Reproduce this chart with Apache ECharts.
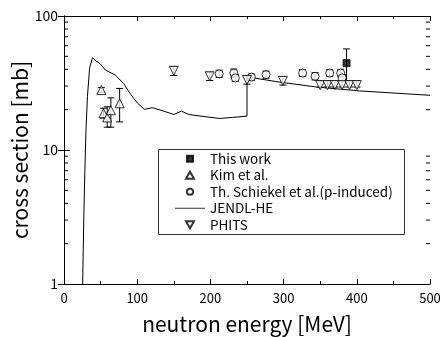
<!DOCTYPE html>
<html><head><meta charset="utf-8">
<script src="https://cdn.jsdelivr.net/npm/echarts@6/dist/echarts.min.js"></script>
<style>html,body{margin:0;padding:0;background:#fff}#c{width:443px;height:337px}</style>
</head><body><div id="c"></div>
<script>
const FONT = '"Noto Sans CJK JP","Noto Sans",sans-serif';
const yMinorTicks = [2,3,4,5,6,7,8,9,20,30,40,50,60,70,80,90];

const thisWorkE = [386];
const thisWorkV = [44.5];
const thisWorkLo = [32.5];
const thisWorkHi = [56.8];

const kimE = [51, 54, 59, 64, 76];
const kimV = [28, 18.8, 17.5, 19.8, 22.3];
const kimLo = [26.8, 17.3, 14.8, 14.8, 16.2];
const kimHi = [29.2, 20.5, 21, 24.5, 28.8];

const schE = [212, 232, 234, 256, 276, 326, 343, 363, 378, 380];
const schV = [37, 37.5, 34.5, 35, 36.5, 37.5, 35.5, 37.5, 37.5, 34.5];
const schLo = [34.8, 35, 32.5, 33.2, 34.3, 35.3, 33.3, 35.3, 35.2, 32.5];
const schHi = [39.4, 40.2, 36.6, 36.9, 38.8, 39.9, 37.8, 39.8, 40, 36.6];

const phitsE = [150, 199, 250, 299, 350, 360, 370, 380, 390, 400];
const phitsV = [39, 35.5, 33.3, 32.8, 30.5, 30.5, 30.5, 30.5, 30.5, 30.5];
const phitsLo = [36, 33, 31, 30.5, 29.5, 29.5, 29.5, 29.5, 29.5, 29.5];
const phitsHi = [42, 38, 35.8, 35.2, 32.8, 32.8, 32.8, 32.8, 32.8, 32.8];

const jendlE = [25.5, 27, 28.5, 30, 32, 35, 39, 44, 49, 56.5, 58.7, 70, 81.5, 91.5, 101, 110, 120.7, 135, 150, 160.4, 170.8, 190, 212.7, 230, 250, 250, 256, 295, 345, 404, 500];
const jendlV = [1, 3, 7, 14, 25, 41, 49, 46, 44.2, 39.5, 40.7, 36.3, 31.3, 25.8, 22.2, 20.1, 20.7, 19.6, 18.4, 19.5, 18.4, 17.8, 17.2, 17.5, 17.9, 34, 34.7, 32.1, 29.5, 27.6, 25.6];

const zip = (a, b) => a.map((v, i) => [v, b[i]]);
const zip3 = (a, b, c) => a.map((v, i) => [v, b[i], c[i]]);

const errData = [].concat(
  zip3(thisWorkE, thisWorkLo, thisWorkHi),
  zip3(kimE, kimLo, kimHi),
  zip3(schE, schLo, schHi),
  zip3(phitsE, phitsLo, phitsHi)
);

// legend icon paths (bounding box padded by move-to points)
const ICON_SQUARE = 'path://M-1,-1 M7,7 M0,0 L6,0 L6,6 L0,6 Z';
const ICON_UP = 'path://M-0.5,-0.5 M9.5,8.5 M0,8 L4.5,0 L9,8 Z';
const ICON_CIRCLE = 'path://M-1,-1 M8,8 M3.5,0 A3.5,3.5 0 1 1 3.49,0 Z';
const ICON_DOWN = 'path://M-0.5,-0.5 M9.5,8.5 M0,0 L9,0 L4.5,8 Z';
const ICON_LINE = 'path://M0,0 M30,8 M0,3.5 L30,3.5 L30,4.5 L0,4.5 Z';

const chart = echarts.init(document.getElementById('c'), null, {renderer: 'canvas'});

const axisLine = {show: true, lineStyle: {color: '#000', width: 1}};
const xCommon = {
  type: 'value', min: 0, max: 500, interval: 100,
  axisLine: axisLine,
  axisTick: {show: true, inside: true, length: 5, lineStyle: {color: '#000'}},
  minorTick: {show: true, splitNumber: 2, length: 3, lineStyle: {color: '#000'}},
  splitLine: {show: false}, minorSplitLine: {show: false}
};
const yCommon = {
  type: 'log', logBase: 10, min: 1, max: 100,
  axisLine: axisLine,
  axisTick: {show: true, inside: true, length: 6, lineStyle: {color: '#000'}},
  splitLine: {show: false}
};

const option = {
  backgroundColor: '#fff',
  animation: false,
  grid: {left: 64, right: 13, top: 16, bottom: 53, containLabel: false, outerBoundsMode: 'none'},
  xAxis: [
    Object.assign({}, xCommon, {
      position: 'bottom',
      name: 'neutron energy [MeV]', nameLocation: 'middle', nameGap: 30, nameMoveOverlap: false,
      nameTextStyle: {fontFamily: FONT, fontSize: 21, color: '#000'},
      axisLabel: {show: true, margin: 8, fontFamily: FONT, fontSize: 13, color: '#000'}
    }),
    Object.assign({}, xCommon, {position: 'top', axisLabel: {show: false}})
  ],
  yAxis: [
    Object.assign({}, yCommon, {
      position: 'left',
      name: 'cross section [mb]', nameLocation: 'middle', nameGap: 33, nameMoveOverlap: false,
      nameTextStyle: {fontFamily: FONT, fontSize: 21, color: '#000'},
      axisLabel: {show: true, margin: 6, fontFamily: FONT, fontSize: 14, color: '#000'}
    }),
    Object.assign({}, yCommon, {position: 'right', axisLabel: {show: false}})
  ],
  legend: {
    orient: 'vertical', left: 170, top: 147,
    itemWidth: 30, itemHeight: 8, itemGap: 3,
    symbolKeepAspect: true,
    textStyle: {fontFamily: FONT, fontSize: 13.5, color: '#000'},
    data: [
      {name: 'This work', icon: ICON_SQUARE},
      {name: 'Kim et al.', icon: ICON_UP},
      {name: 'Th. Schiekel et al.(p-induced)', icon: ICON_CIRCLE},
      {name: 'JENDL-HE', icon: ICON_LINE, itemStyle: {color: '#333', borderWidth: 0}},
      {name: 'PHITS', icon: ICON_DOWN}
    ]
  },
  graphic: [{
    type: 'rect', left: 156, top: 147, z: 0,
    shape: {width: 246, height: 85},
    style: {fill: 'none', stroke: '#333', lineWidth: 1}
  }],
  series: [
    {
      type: 'custom', name: 'err', silent: true, z: 1,
      data: errData, encode: {x: 0, y: [1, 2]},
      renderItem: function (params, api) {
        const x = api.value(0);
        const lo = api.coord([x, api.value(1)]);
        const hi = api.coord([x, api.value(2)]);
        const w = 3.5;
        const st = {stroke: '#000', lineWidth: 1};
        return {type: 'group', children: [
          {type: 'line', shape: {x1: lo[0], y1: lo[1], x2: hi[0], y2: hi[1]}, style: st},
          {type: 'line', shape: {x1: lo[0] - w, y1: lo[1], x2: lo[0] + w, y2: lo[1]}, style: st},
          {type: 'line', shape: {x1: hi[0] - w, y1: hi[1], x2: hi[0] + w, y2: hi[1]}, style: st}
        ]};
      }
    },
    {
      type: 'line', name: 'JENDL-HE', data: zip(jendlE, jendlV), symbol: 'none', z: 2,
      lineStyle: {color: '#000', width: 1}, itemStyle: {color: '#000'}
    },
    {
      type: 'scatter', name: 'This work', data: zip(thisWorkE, thisWorkV), symbol: 'rect', symbolSize: 7, z: 3,
      itemStyle: {color: '#000', borderColor: '#000', borderWidth: 1}
    },
    {
      type: 'scatter', name: 'Kim et al.', data: zip(kimE, kimV), symbol: 'triangle', symbolSize: 9, z: 3,
      itemStyle: {color: '#fff', borderColor: '#000', borderWidth: 1}
    },
    {
      type: 'scatter', name: 'Th. Schiekel et al.(p-induced)', data: zip(schE, schV), symbol: 'circle', symbolSize: 8, z: 3,
      itemStyle: {color: '#fff', borderColor: '#000', borderWidth: 1}
    },
    {
      type: 'scatter', name: 'PHITS', data: zip(phitsE, phitsV), symbol: 'triangle', symbolRotate: 180, symbolSize: 9, z: 3,
      itemStyle: {color: '#fff', borderColor: '#000', borderWidth: 1}
    },
    {
      type: 'custom', name: 'minorY', silent: true, z: 4,
      data: yMinorTicks.map(v => [0, v]), encode: {x: 0, y: 1}, clip: false,
      renderItem: function (params, api) {
        const v = api.value(1);
        const l = api.coord([0, v]);
        const r = api.coord([500, v]);
        const st = {stroke: '#000', lineWidth: 1};
        return {type: 'group', children: [
          {type: 'line', shape: {x1: l[0], y1: l[1], x2: l[0] + 4, y2: l[1]}, style: st},
          {type: 'line', shape: {x1: r[0] - 4, y1: r[1], x2: r[0], y2: r[1]}, style: st}
        ]};
      }
    }
  ]
};
chart.setOption(option);
</script>
</body></html>
